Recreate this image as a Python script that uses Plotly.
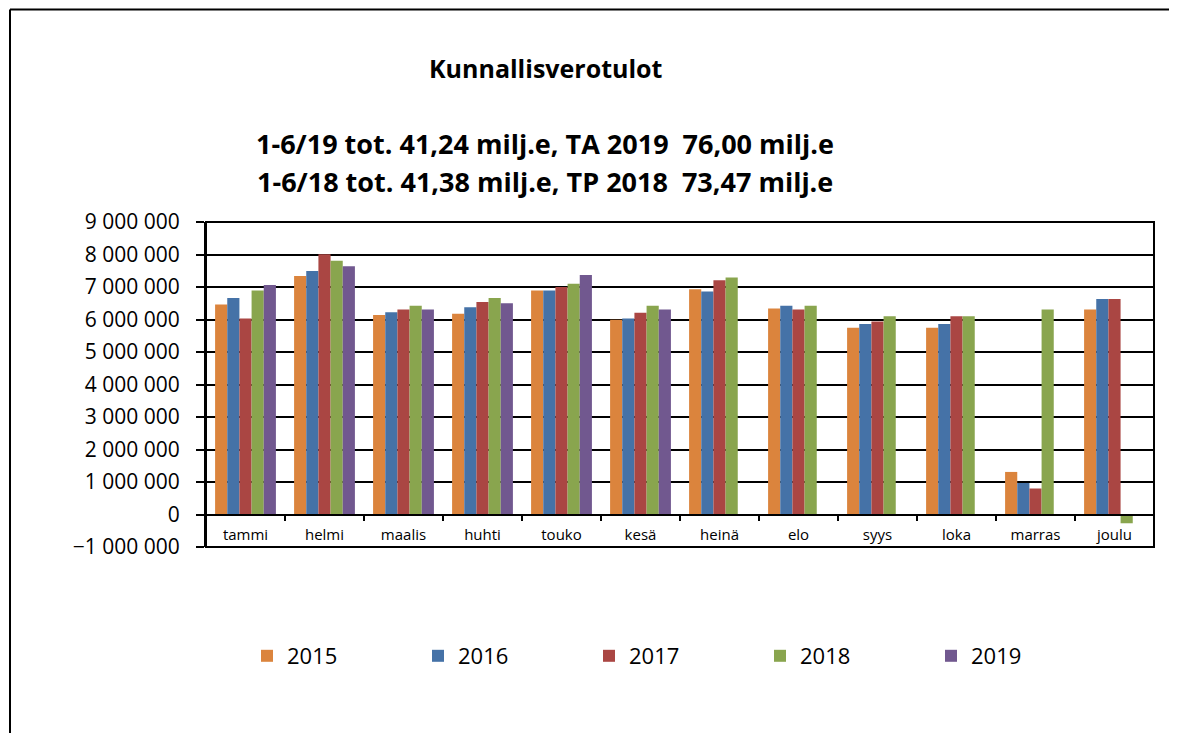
import plotly.graph_objects as go

months = ["tammi", "helmi", "maalis", "huhti", "touko", "kesä", "heinä",
          "elo", "syys", "loka", "marras", "joulu"]
years = ["2015", "2016", "2017", "2018", "2019"]

v2015 = [6460000, 7340000, 6140000, 6180000, 6890000, 5990000, 6930000,
         6340000, 5750000, 5750000, 1310000, 6310000]
v2016 = [6660000, 7490000, 6220000, 6380000, 6890000, 6030000, 6860000,
         6420000, 5860000, 5860000, 970000, 6630000]
v2017 = [6030000, 8010000, 6310000, 6540000, 7000000, 6210000, 7210000,
         6310000, 5940000, 6100000, 800000, 6630000]
v2018 = [6890000, 7810000, 6420000, 6660000, 7100000, 6420000, 7290000,
         6420000, 6100000, 6100000, 6310000, -270000]
v2019 = [7060000, 7640000, 6310000, 6500000, 7370000, 6310000, None,
         None, None, None, None, None]

series = [v2015, v2016, v2017, v2018, v2019]
colors = ["#DB843D", "#4572A7", "#AA4643", "#89A54E", "#71588F"]

title = "Kunnallisverotulot"
sub1 = "1-6/19 tot. 41,24 milj.e, TA 2019  76,00 milj.e"
sub2 = "1-6/18 tot. 41,38 milj.e, TP 2018  73,47 milj.e"

FONT = "Open Sans"
OFF = 8  # page body margin
W, H = 1177, 733
L, R, T, B = 206 - OFF, 23 + OFF, 222 - OFF, 186 + OFF
PW, PH = W - L - R, H - T - B


def px(sx):
    return (sx - OFF - L) / PW


def py(sy):
    return (H - B - (sy - OFF)) / PH


fig = go.Figure()
for name, vals, col in zip(years, series, colors):
    fig.add_trace(go.Bar(x=months, y=vals, name=name,
                         marker=dict(color=col, line=dict(width=0))))

ymin, ymax = -1000000, 9000000
zero_pos = (0 - ymin) / (ymax - ymin)

fig.update_layout(
    width=W, height=H,
    margin=dict(l=L, r=R, t=T, b=B),
    paper_bgcolor="white", plot_bgcolor="white",
    separators=", ",
    barmode="group", bargap=0.23, bargroupgap=0,
    font=dict(family=FONT, color="black"),
    showlegend=True,
    legend=dict(orientation="h", x=px(247), y=py(656), xanchor="left",
                yanchor="middle", entrywidth=126, entrywidthmode="pixels",
                font=dict(size=22, family=FONT), traceorder="normal"),
    xaxis=dict(anchor="free", position=zero_pos, showline=True,
               linecolor="black", linewidth=1.5, ticks="outside",
               tickson="boundaries", ticklen=6, tickcolor="black",
               tickwidth=1.5, tickfont=dict(size=15, family=FONT),
               showgrid=False, ticklabelstandoff=7),
    yaxis=dict(range=[ymin, ymax], dtick=1000000, tickformat=",d",
               showgrid=True, gridcolor="black", gridwidth=1.5,
               zeroline=True, zerolinecolor="black", zerolinewidth=1.5,
               showline=True, linecolor="black", linewidth=2,
               ticks="outside", ticklen=8, tickcolor="black", tickwidth=1.5,
               tickfont=dict(size=21, family=FONT), ticklabelstandoff=12),
)

shapes = [
    dict(type="rect", xref="x domain", yref="y domain", x0=0, x1=1, y0=0,
         y1=1, line=dict(color="black", width=2)),
    dict(type="line", xref="paper", yref="paper", x0=px(10), x1=px(10),
         y0=py(9.5), y1=py(760), line=dict(color="black", width=2)),
    dict(type="line", xref="paper", yref="paper", x0=px(10), x1=px(1200),
         y0=py(9.5), y1=py(9.5), line=dict(color="black", width=2)),
]
fig.update_layout(shapes=shapes)

anns = [
    dict(text="<b>" + title + "</b>", x=px(546), y=py(68), size=25),
    dict(text="<b>" + sub1 + "</b>", x=px(545), y=py(143), size=27),
    dict(text="<b>" + sub2 + "</b>", x=px(545), y=py(181), size=27),
]
for a in anns:
    fig.add_annotation(text=a["text"], x=a["x"], y=a["y"], xref="paper",
                       yref="paper", xanchor="center", yanchor="middle",
                       showarrow=False,
                       font=dict(size=a["size"], family=FONT, color="black"))

fig.write_html("out.html")
